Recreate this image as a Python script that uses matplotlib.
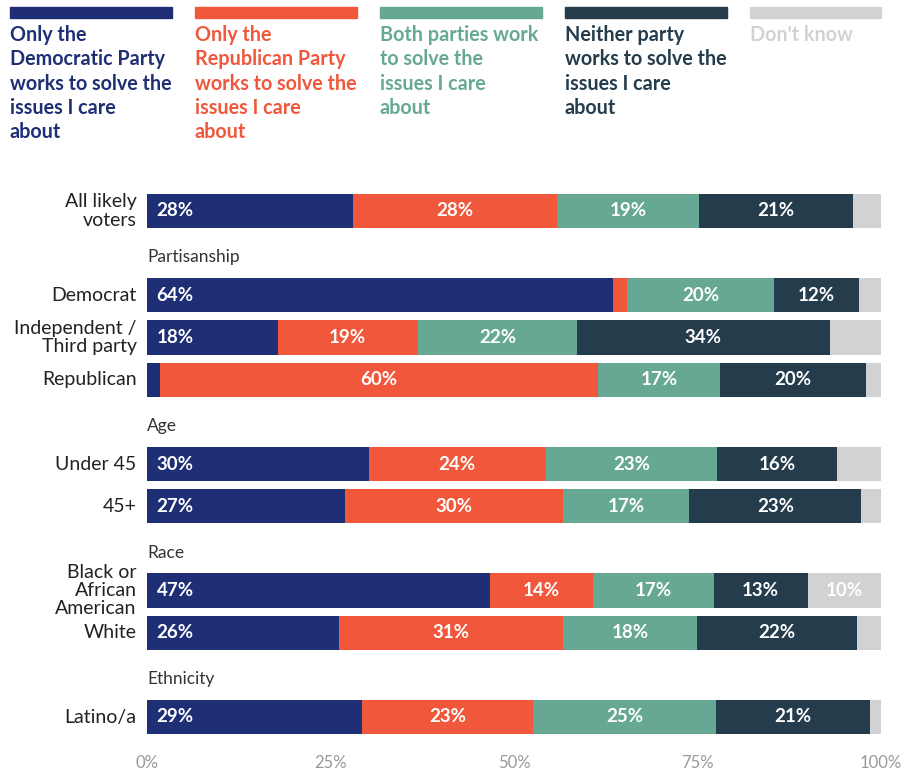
import matplotlib.pyplot as plt
from matplotlib.patches import Rectangle

plt.rcParams["font.family"] = ["Lato", "DejaVu Sans"]

# series names (legend) and colours
series = [
    "Only the\nDemocratic Party\nworks to solve the\nissues I care\nabout",
    "Only the\nRepublican Party\nworks to solve the\nissues I care\nabout",
    "Both parties work\nto solve the\nissues I care\nabout",
    "Neither party\nworks to solve the\nissues I care\nabout",
    "Don't know",
]
colors = ["#1f2f76", "#f0573b", "#67a894", "#243c4c", "#d1d2d4"]

# rows and the slot each sits in; headers get their own slot
rows = ["All likely\nvoters", "Democrat", "Independent /\nThird party", "Republican",
        "Under 45", "45+", "Black or\nAfrican\nAmerican", "White", "Latino/a"]
row_slots = [0, 2, 3, 4, 6, 7, 9, 10, 12]
headers = ["Partisanship", "Age", "Race", "Ethnicity"]
header_slots = [1, 5, 8, 11]

dem_only = [28.1, 63.5, 17.8, 1.8, 30.2, 27.0, 46.7, 26.2, 29.3]
rep_only = [27.8, 1.9, 19.1, 59.7, 24.1, 29.7, 14.0, 30.5, 23.3]
both = [19.3, 20.0, 21.7, 16.6, 23.4, 17.2, 16.5, 18.3, 24.9]
neither = [21.0, 11.6, 34.4, 19.8, 16.3, 23.4, 12.8, 21.7, 21.0]
dont_know = [3.8, 3.0, 7.0, 2.1, 6.0, 2.7, 10.0, 3.3, 1.5]
values = [dem_only, rep_only, both, neither, dont_know]

ticks = [0, 25, 50, 75, 100]

W, H = 903, 770
fig = plt.figure(figsize=(W / 100, H / 100), dpi=100)

# axes placed in pixel terms: x 147..881, slots 0..12 centred 211..717
slot_px = (717 - 211) / 12
top_px = 211 - slot_px / 2
bot_px = 717 + slot_px / 2
ax = fig.add_axes([147 / W, 1 - bot_px / H, (881 - 147) / W, (bot_px - top_px) / H])

lefts = [0.0] * len(rows)
for s, vals in enumerate(values):
    ax.barh(row_slots, vals, left=lefts, height=0.81, color=colors[s], linewidth=0)
    for i, v in enumerate(vals):
        if v >= 9.5:
            txt = f"{int(v + 0.5)}%"
            if s == 0:
                ax.text(lefts[i] + 1.3, row_slots[i], txt, ha="left", va="center",
                        color="white", fontsize=13.5, fontweight="bold")
            else:
                ax.text(lefts[i] + v / 2, row_slots[i], txt, ha="center", va="center",
                        color="white", fontsize=13.5, fontweight="bold")
    lefts = [l + v for l, v in zip(lefts, vals)]

for lab, y in zip(rows, row_slots):
    ax.text(-1.4, y, lab, ha="right", va="center", fontsize=14, color="#222222",
            linespacing=1.1)

for lab, y in zip(headers, header_slots):
    ax.text(0, y + 0.1, lab, ha="left", va="center", fontsize=12.5, color="#333333")

ax.set_xlim(0, 100)
ax.set_ylim(12.5, -0.5)
ax.set_xticks(ticks)
ax.set_xticklabels([f"{t}%" for t in ticks])
ax.tick_params(axis="x", length=0, pad=12, labelsize=12, labelcolor="#999999")
ax.set_yticks([])
for sp in ax.spines.values():
    sp.set_visible(False)

# legend across the top
leg_x = [10, 195, 380, 565, 750]
leg_w = [162, 162, 162, 162, 131]
for s in range(len(series)):
    fig.patches.append(Rectangle((leg_x[s] / W, 1 - 18 / H), leg_w[s] / W, 11 / H,
                                 transform=fig.transFigure, color=colors[s]))
    fig.text(leg_x[s] / W, 1 - 25 / H, series[s], ha="left", va="top",
             fontsize=14.2, fontweight="bold", color=colors[s], linespacing=1.27)

fig.savefig("out.png", dpi=100)
